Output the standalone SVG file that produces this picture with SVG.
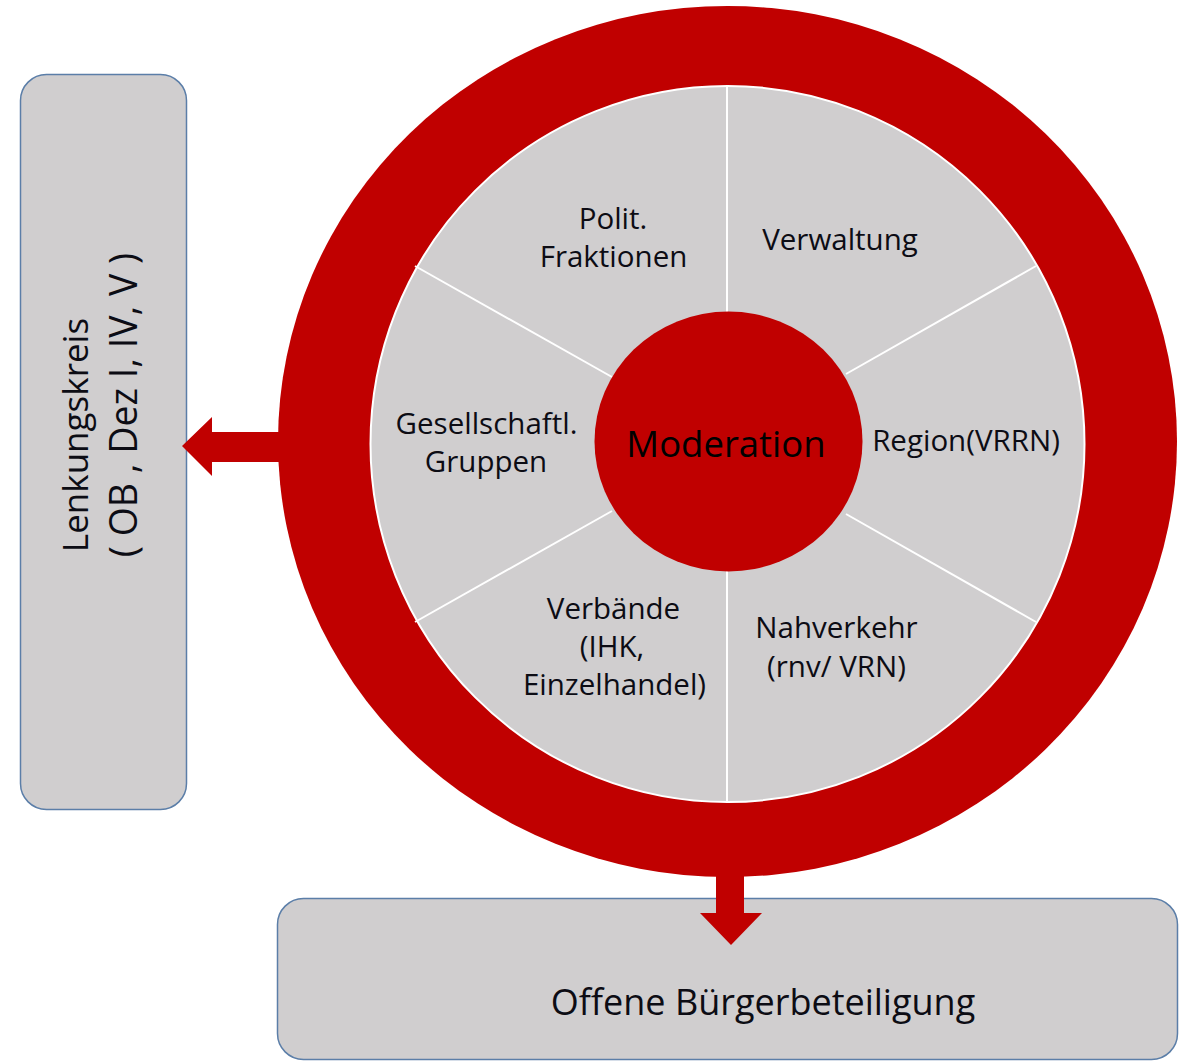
<svg xmlns="http://www.w3.org/2000/svg" width="1188" height="1064" viewBox="0 0 1188 1064">
<style>
.box{fill:#d0cecf;stroke:#5b7ea8;stroke-width:1.5}
.red{fill:#c00000}
.t{font-family:"Open Sans","Noto Sans","DejaVu Sans",sans-serif;fill:#0c0c14;text-anchor:middle}
.s{font-size:29.5px}
.div{stroke:#ffffff;stroke-width:2;fill:none}
</style>
<rect width="1188" height="1064" fill="#ffffff"/>
<g id="lenkungskreis">
<rect class="box" x="20.5" y="74.5" width="166" height="735" rx="26" ry="26"/>
<text class="t" font-size="35" transform="translate(88,435) rotate(-90)">Lenkungskreis</text>
<text class="t" font-size="37.5" transform="translate(137,405) rotate(-90)">( OB , Dez I, IV, V )</text>
</g>
<g id="buergerbeteiligung">
<rect class="box" x="277.5" y="898.5" width="900" height="161" rx="26" ry="26"/>
<text class="t" font-size="36" x="763" y="1015">Offene Bürgerbeteiligung</text>
</g>
<g id="connectors">
<polygon class="red" points="290,432 212,432 212,417 182,446 212,476 212,462 290,462"/>
<polygon class="red" points="716,860 744,860 744,913 762,913 731,945 700,913 716,913"/>
</g>
<g id="ring">
<ellipse class="red" cx="727.5" cy="441.5" rx="449.5" ry="435.5"/>
<ellipse cx="727.5" cy="444" rx="357" ry="358" fill="#d0cecf" stroke="#ffffff" stroke-width="2"/>
<line class="div" x1="727" y1="86" x2="727" y2="320"/>
<line class="div" x1="727" y1="565" x2="727" y2="802"/>
<line class="div" x1="415" y1="266" x2="612" y2="377"/>
<line class="div" x1="1036" y1="266" x2="846" y2="374"/>
<line class="div" x1="415" y1="622" x2="612" y2="511"/>
<line class="div" x1="1036" y1="622" x2="846" y2="514"/>
</g>
<g id="polit">
<text class="t s" x="613" y="229">Polit.</text>
<text class="t s" x="613.5" y="267">Fraktionen</text>
</g>
<g id="verwaltung">
<text class="t s" x="840" y="250">Verwaltung</text>
</g>
<g id="region">
<text class="t s" x="966" y="451">Region(VRRN)</text>
</g>
<g id="gesellschaft">
<text class="t s" x="486.5" y="434">Gesellschaftl.</text>
<text class="t s" x="486" y="472">Gruppen</text>
</g>
<g id="verbaende">
<text class="t s" x="613.5" y="619">Verbände</text>
<text class="t s" x="612" y="657">(IHK,</text>
<text class="t s" x="614.5" y="695">Einzelhandel)</text>
</g>
<g id="nahverkehr">
<text class="t s" x="836.5" y="638">Nahverkehr</text>
<text class="t s" x="836.5" y="677">(rnv/ VRN)</text>
</g>
<g id="moderation">
<ellipse class="red" cx="728.5" cy="441.5" rx="134" ry="130"/>
<text class="t" font-size="36.5" x="726" y="457" fill="#000000" style="fill:#000000">Moderation</text>
</g>
</svg>
